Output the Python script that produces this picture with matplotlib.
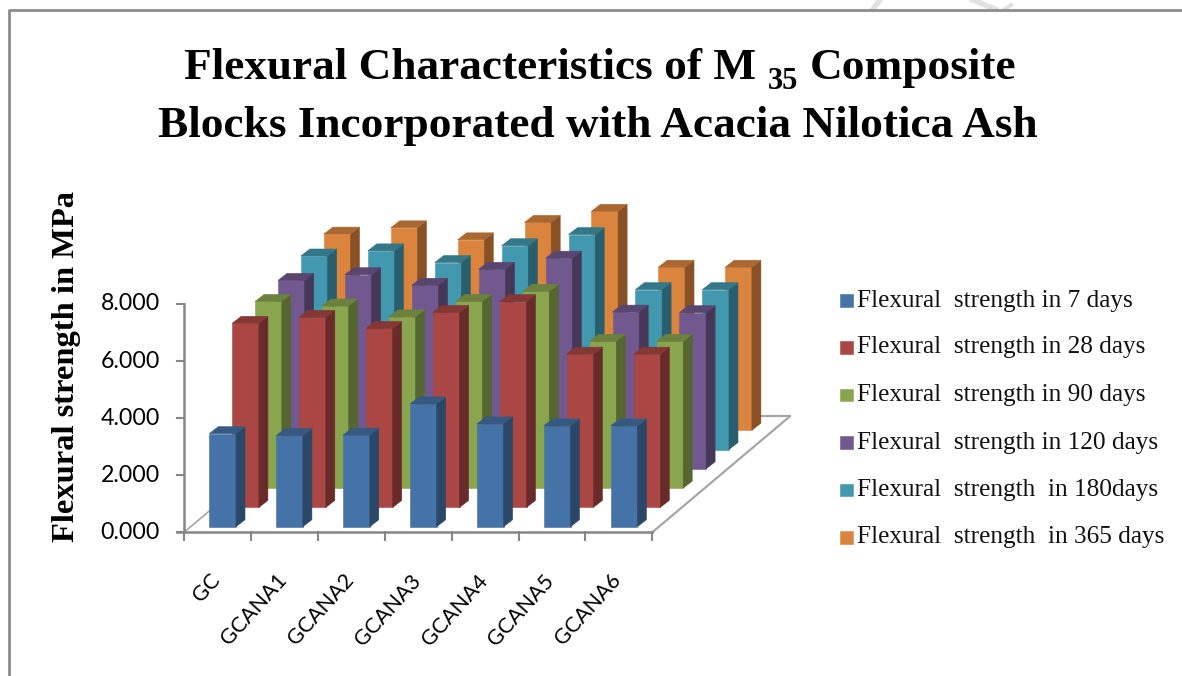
import matplotlib
matplotlib.use("Agg")
import matplotlib.pyplot as plt
import numpy as np

categories = ["GC", "GCANA1", "GCANA2", "GCANA3", "GCANA4", "GCANA5", "GCANA6"]
series_names = ["Flexural  strength in 7 days", "Flexural  strength in 28 days",
                "Flexural  strength in 90 days", "Flexural  strength in 120 days",
                "Flexural  strength  in 180days", "Flexural  strength  in 365 days"]
day7 = [3.26, 3.19, 3.21, 4.30, 3.60, 3.53, 3.53]
day28 = [6.45, 6.66, 6.27, 6.83, 7.21, 5.37, 5.37]
day90 = [6.54, 6.38, 6.00, 6.54, 6.89, 5.14, 5.14]
day120 = [6.60, 6.80, 6.43, 6.99, 7.38, 5.49, 5.47]
day180 = [6.78, 6.96, 6.55, 7.14, 7.53, 5.60, 5.60]
day365 = [6.87, 7.09, 6.67, 7.28, 7.67, 5.71, 5.71]
y_ticks = [0, 2, 4, 6, 8]
colors = ["#4572A7", "#AA4643", "#89A54E", "#71588F", "#4198AF", "#DB843D"]

all_series = [day7, day28, day90, day120, day180, day365]

# everything below is in image pixels, the axes covers the whole figure
W, H = 1182, 676
fig = plt.figure(figsize=(W / 100, H / 100), dpi=100)
ax = fig.add_axes([0, 0, 1, 1])
ax.set_xlim(0, W)
ax.set_ylim(H, 0)
ax.axis("off")

x0, y0 = 184.0, 532.3      # origin of the chart floor
cat_w = 66.9
unit = 28.54               # pixels per MPa
dep_x, dep_y = 22.9, -19.3 # shift per series going back
bar_w = 26.7
side_x, side_y = 9.0, -7.0
bar_x0, bar_y0 = 209.3, 526.7


def darker(c, f):
    rgb = np.array(matplotlib.colors.to_rgb(c))
    return tuple(rgb * f)


def draw_bar(i, j, v, c):
    x = bar_x0 + cat_w * i + dep_x * j
    base = bar_y0 + dep_y * j
    top = base - v * unit
    ax.fill([x, x + bar_w, x + bar_w, x], [base, base, top, top],
            fc=c, ec=c, lw=0.4, zorder=3)
    ax.fill([x + bar_w, x + bar_w + side_x, x + bar_w + side_x, x + bar_w],
            [base, base + side_y, top + side_y, top],
            fc=darker(c, 0.62), ec=darker(c, 0.62), lw=0.4, zorder=3)
    ax.fill([x, x + side_x, x + bar_w + side_x, x + bar_w],
            [top, top + side_y, top + side_y, top],
            fc=darker(c, 0.78), ec=darker(c, 0.78), lw=0.4, zorder=3)


# floor
back_x = x0 + dep_x * 6
back_y = y0 + dep_y * 6
fr_x = x0 + cat_w * 7
ax.plot([x0, back_x], [y0, back_y], color="#a6a6a6", lw=1.2, zorder=1)
ax.plot([fr_x, fr_x + dep_x * 6], [y0, back_y], color="#a6a6a6", lw=1.6, zorder=1)
ax.plot([back_x, fr_x + dep_x * 6], [back_y, back_y], color="#a6a6a6", lw=1.6, zorder=1)

# axes lines and ticks
ax.plot([x0, x0], [y0, y0 - 8 * unit], color="#868686", lw=1.8, zorder=2)
ax.plot([x0 - 7, fr_x], [y0, y0], color="#868686", lw=1.8, zorder=2)
for v in y_ticks:
    ax.plot([x0 - 7, x0], [y0 - v * unit] * 2, color="#868686", lw=1.5, zorder=2)
    ax.text(160, y0 - v * unit, "%.3f" % v, ha="right", va="center",
            fontsize=16.7, family="Lato", color="#000000")
for i in range(len(categories) + 1):
    ax.plot([x0 + cat_w * i] * 2, [y0, y0 + 8], color="#868686", lw=1.5, zorder=2)
for i, name in enumerate(categories):
    ax.text(x0 + cat_w * (i + 0.5) - 1, 577, name, rotation=48, rotation_mode="anchor",
            ha="right", va="center", fontsize=15.5, family="Lato", color="#000000")

# back series first so the front ones cover them
for j in range(len(all_series) - 1, -1, -1):
    for i in range(len(categories)):
        draw_bar(i, j, all_series[j][i], colors[j])

# legend
leg_y = [300.7, 347.3, 395.0, 442.7, 490.0, 537.3]
for name, c, y in zip(series_names, colors, leg_y):
    ax.fill([840, 852.5, 852.5, 840], [y - 6.3, y - 6.3, y + 6.3, y + 6.3], fc=c, ec=c, lw=0.4)
    ax.text(857, y, name, ha="left", va="center", fontsize=18.2,
            family="Liberation Serif", color="#111111")

# titles
tkw = dict(family="Liberation Serif", weight="bold", color="black", va="baseline")
ax.text(184, 79, "Flexural Characteristics of M", ha="left", fontsize=32.6, **tkw)
ax.text(768, 89, "35", ha="left", fontsize=22, **tkw)
ax.text(1016, 79, "Composite", ha="right", fontsize=32.6, **tkw)
ax.text(158, 137, "Blocks Incorporated with Acacia Nilotica Ash", ha="left", fontsize=32.6, **tkw)
ax.text(67, 366, "Flexural strength in MPa", rotation=90, ha="center", va="center",
        family="Liberation Serif", weight="bold", fontsize=23.4, color="black")

# frame of the pasted picture and the faint watermark at the top
ax.plot([8.5, 8.5, W], [H, 10, 10], color="#8c8c8c", lw=2.0, zorder=5)
ax.plot([880, 873], [0, 9], color="#e2e2e2", lw=4, zorder=0)
ax.plot([973, 995], [0, 9], color="#e2e2e2", lw=4, zorder=0)
ax.plot([1011, 1005], [5, 9], color="#e2e2e2", lw=3, zorder=0)

fig.savefig("out.png", dpi=100, facecolor="white")
